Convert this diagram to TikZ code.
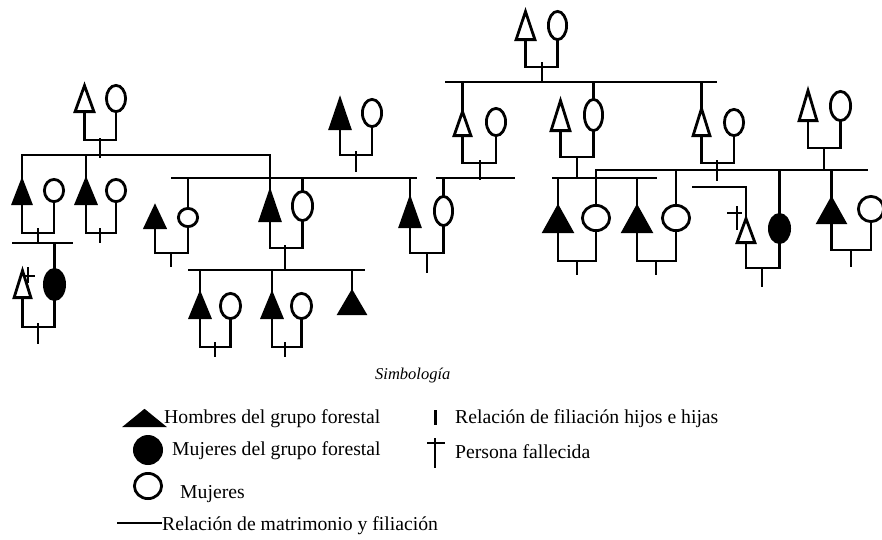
\documentclass[tikz,border=0pt]{standalone}
\usepackage{fontspec}
\setmainfont{Liberation Serif}
\usetikzlibrary{shapes.geometric}
\tikzset{
  ln/.style={line width=2.8pt, line join=miter, draw=black},
  shp/.style={line width=2.8pt, line join=miter, draw=black},
  tbox/.style={rectangle, inner sep=0pt, outer sep=0pt, draw=none},
  ebox/.style={ellipse, draw=black, line width=2.8pt, inner sep=0pt, outer sep=0pt},
  crossln/.style={line width=2.4pt},
  lbl/.style={inner sep=0pt, anchor=base west, font=\fontsize{19.7}{22}\selectfont},
}
% triangle from its outer box: name, x1, x2, y1, y2, fill
\newcommand\Tri[6]{%
  \node[tbox, minimum width={(#3-#2-4.2)*1pt}, minimum height={(#5-#4-5)*1pt}] (#1) at ({(#2+#3)/2},{(#4+#5)/2+1.1}) {};
  \draw[shp, fill=#6] (#1.north) -- (#1.south east) -- (#1.south west) -- cycle;}
% ellipse from its outer box: name, x1, x2, y1, y2, fill
\newcommand\Ell[6]{%
  \node[ebox, fill=#6, minimum width={(#3-#2-2.8)*1pt}, minimum height={(#5-#4-2.8)*1pt}] (#1) at ({(#2+#3)/2},{(#4+#5)/2}) {};}
% marriage: man, woman, id, bar y, tick x, tick y1, tick y2
\newcommand\Mar[7]{%
  \coordinate (#3) at (#5,#4);
  \coordinate (#3u) at (#5,#6);
  \coordinate (#3d) at (#5,#7);
  \draw[ln] (#1.south) |- (#3) -| (#2.south);
  \draw[ln] (#3u) -- (#3d);}
\begin{document}
\begin{tikzpicture}[x=1pt,y=-1pt]
\useasboundingbox (0,0) rectangle (882,539);

% ---------- persons ----------
\Tri{a1}{73}{96}{82}{113}{white}   \Ell{a2}{105}{127}{84}{113}{white}
\Tri{b1}{11}{33}{177}{205}{black}  \Ell{b2}{43}{65}{178}{203}{white}
\Tri{b3}{74}{98}{176}{205}{black}  \Ell{b4}{105}{127}{178}{203}{white}
\Tri{d1}{12}{33}{267}{299}{white}  \Ell{d2}{43}{66}{268}{301}{black}
\Tri{e1}{258}{282}{188}{222}{black} \Ell{e2}{291}{314}{190}{222}{white}
\Tri{f1}{143}{167}{203}{229}{black} \Ell{f2}{177}{199}{207}{228}{white}
\Tri{g1}{328}{352}{96}{130}{black} \Ell{g2}{361}{383}{98}{128}{white}
\Tri{h1}{398}{422}{195}{228}{black} \Ell{h2}{433}{454}{195}{227}{white}
\Tri{i1}{452}{473}{108}{137}{white} \Ell{i2}{485}{507}{107}{137}{white}
\Tri{j1}{514}{537}{8}{41}{white}   \Ell{j2}{547}{568}{10}{41}{white}
\Tri{k1}{549}{572}{97}{132}{white} \Ell{k2}{583}{604}{98}{132}{white}
\Tri{l1}{691}{712}{105}{137}{white} \Ell{l2}{723}{745}{108}{137}{white}
\Tri{m1}{797}{819}{87}{122}{white} \Ell{m2}{829}{852}{90}{122}{white}
\Tri{n1}{542}{574}{203}{233}{black} \Ell{n2}{581}{611}{204}{232}{white}
\Tri{o1}{621}{653}{203}{233}{black} \Ell{o2}{661}{691}{204}{232}{white}
\Tri{p1}{735}{757}{215}{244}{white} \Ell{p2}{768}{791}{213}{244}{black}
\Tri{q1}{816}{847}{195}{224}{black} \Ell{q2}{857}{885}{195}{223}{white}
\Tri{r1}{188}{212}{290}{319}{black} \Ell{r2}{219}{242}{292}{320}{white}
\Tri{s1}{260}{284}{290}{319}{black} \Ell{s2}{290}{313}{292}{320}{white}
\Tri{t1}{337}{367}{288}{315}{black}

% ---------- marriages ----------
\Mar{a1}{a2}{ma}{140}{100}{138}{158}
\Mar{b1}{b2}{mb}{233}{38}{228}{243}
\Mar{b3}{b4}{mc}{233}{100}{228}{243}
\Mar{d1}{d2}{md}{327}{38}{323}{344}
\Mar{e1}{e2}{me}{248}{285}{245}{270}
\Mar{f1}{f2}{mf}{253}{171}{253}{267}
\Mar{g1}{g2}{mg}{155}{356}{151}{172}
\Mar{h1}{h2}{mh}{253}{427}{253}{273}
\Mar{i1}{i2}{mi}{163}{480}{160}{180}
\Mar{j1}{j2}{mj}{67}{542}{62}{83}
\Mar{k1}{k2}{mk}{157}{577}{157}{178}
\Mar{l1}{l2}{ml}{163}{717}{160}{181}
\Mar{m1}{m2}{mm}{148}{824}{148}{170}
\Mar{n1}{n2}{mn}{261}{577}{261}{275}
\Mar{o1}{o2}{mo}{261}{656}{261}{275}
\Mar{p1}{p2}{mp}{268}{762}{268}{287}
\Mar{q1}{q2}{mq}{250}{851}{250}{267}
\Mar{r1}{r2}{mr}{347}{215}{342}{357}
\Mar{s1}{s2}{ms}{347}{285}{342}{357}

% ---------- sibling lines and drops ----------
\coordinate (L1) at (0,155);
\draw[ln] (b1.north) |- (e1.north |- L1) -- (e1.north);
\draw[ln] (b3.north) -- (b3.north |- L1);

\coordinate (L2a) at (12,243); \coordinate (L2b) at (73,243);
\draw[ln] (L2a) -- (L2b);
\draw[ln] (d2.north) -- (d2.north |- L2a);

\coordinate (L3a) at (171,178); \coordinate (L3b) at (417,178);
\draw[ln] (L3a) -- (L3b);
\draw[ln] (f2.north) -- (f2.north |- L3a);
\draw[ln] (e2.north) -- (e2.north |- L3a);
\draw[ln] (h1.north) -- (h1.north |- L3a);

\coordinate (L4a) at (188,270); \coordinate (L4b) at (365,270);
\draw[ln] (L4a) -- (L4b);
\draw[ln] (r1.north) -- (r1.north |- L4a);
\draw[ln] (s1.north) -- (s1.north |- L4a);
\draw[ln] (t1.north) -- (t1.north |- L4a);

\coordinate (L5a) at (436,178); \coordinate (L5b) at (515,178);
\draw[ln] (L5a) -- (L5b);
\draw[ln] (h2.north) -- (h2.north |- L5a);

\coordinate (L6a) at (445,82); \coordinate (L6b) at (717,82);
\draw[ln] (L6a) -- (L6b);
\draw[ln] (i1.north) -- (i1.north |- L6a);
\draw[ln] (k2.north) -- (k2.north |- L6a);
\draw[ln] (l1.north) -- (l1.north |- L6a);

\coordinate (L7a) at (552,178); \coordinate (L7b) at (657,178);
\draw[ln] (L7a) -- (L7b);
\draw[ln] (n1.north) -- (n1.north |- L7a);
\draw[ln] (o1.north) -- (o1.north |- L7a);

\coordinate (L8b) at (868,170);
\draw[ln] (n2.north) |- (L8b);
\draw[ln] (o2.north) -- (o2.north |- L8b);
\draw[ln] (p2.north) -- (p2.north |- L8b);
\draw[ln] (q1.north) -- (q1.north |- L8b);

\coordinate (L9a) at (692,187);
\draw[ln] (L9a) -| (p1.north);

% ---------- deceased crosses ----------
\coordinate (xd1) at (28,267); \coordinate (xd2) at (28,283);
\coordinate (xd3) at (23,276); \coordinate (xd4) at (35,276);
\draw[crossln] (xd1) -- (xd2) (xd3) -- (xd4);
\coordinate (xp1) at (737,206); \coordinate (xp2) at (737,230);
\coordinate (xp3) at (727,213); \coordinate (xp4) at (742,213);
\draw[crossln] (xp1) -- (xp2) (xp3) -- (xp4);

% ---------- legend ----------
\node[inner sep=0pt, anchor=base west, font=\fontsize{16.5}{18}\selectfont\itshape] (sim) at (375,379) {Simbología};

\Tri{lgT}{124}{165}{407}{427}{black}
\node[lbl] (tH) at (164,423) {Hombres del grupo forestal};
\Ell{lgF}{133}{163}{435}{465}{black}
\node[lbl] (tMf) at (172,455) {Mujeres del grupo forestal};
\Ell{lgO}{133}{163}{472}{500}{white}
\node[lbl] (tM) at (180,498) {Mujeres};
\coordinate (lgLa) at (117,523); \coordinate (lgLb) at (162,523);
\draw[line width=2.2pt] (lgLa) -- (lgLb);
\node[lbl] (tR) at (162,530) {Relación de matrimonio y filiación};

\coordinate (lgBa) at (435,410); \coordinate (lgBb) at (435,425);
\draw[line width=3pt] (lgBa) -- (lgBb);
\node[lbl] (tF) at (455,423) {Relación de filiación hijos e hijas};
\coordinate (lgDa) at (435,438); \coordinate (lgDb) at (435,468);
\coordinate (lgDc) at (427,443); \coordinate (lgDd) at (445,443);
\draw[line width=2.5pt] (lgDa) -- (lgDb) (lgDc) -- (lgDd);
\node[lbl] (tP) at (455,458) {Persona fallecida};
\end{tikzpicture}
\end{document}
